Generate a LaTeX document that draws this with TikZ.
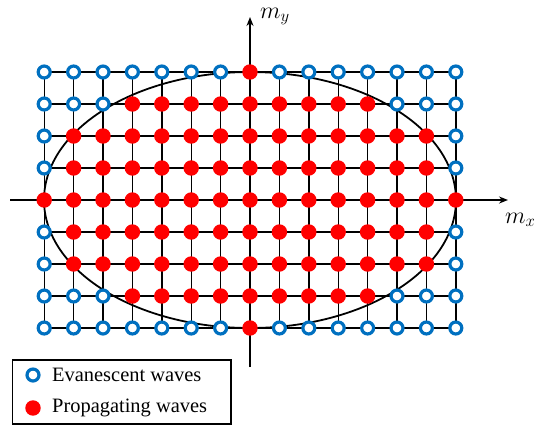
\documentclass[tikz,border=0pt]{standalone}
\usepackage{fix-cm}
\usepackage{fontspec}
\setmainfont{Liberation Serif}
\usetikzlibrary{arrows.meta}
\definecolor{evblue}{RGB}{0,112,192}
\definecolor{prred}{RGB}{255,0,0}
\tikzset{
  evan/.style={circle,draw=evblue,fill=white,line width=3.2pt,minimum size=12pt,inner sep=0pt},
  prop/.style={circle,fill=prred,minimum size=15.5pt,inner sep=0pt},
  gridline/.style={black,line width=1.4pt},
  axisline/.style={black,line width=1.8pt,-{Stealth[length=9pt,width=7pt]}},
  legendbox/.style={draw=black,line width=1.5pt,fill=white},
  lbl/.style={font=\fontsize{20.5}{24}\selectfont,inner sep=0pt},
  axlbl/.style={font=\fontsize{24}{28}\selectfont,inner sep=0pt,anchor=base west}
}
\begin{document}
\begin{tikzpicture}[x=1bp,y=-1bp]
\useasboundingbox (0,0) rectangle (537,428);
% grid
\foreach \i in {-7,...,7}{
  \draw[gridline] ({250+\i*29.4},72) -- ({250+\i*29.4},328);
}
\foreach \j in {-4,...,4}{
  \draw[gridline] (44.2,{200+\j*32}) -- (455.8,{200+\j*32});
}
% ellipse
\draw[line width=1.8pt] (250,200) ellipse [x radius=206, y radius=128];
% axes
\coordinate (xs) at (10,200);
\coordinate (xe) at (508,200);
\coordinate (ys) at (250,367);
\coordinate (ye) at (250,17);
\draw[axisline] (xs) -- (xe);
\draw[axisline] (ys) -- (ye);
% dots
\foreach \i in {-7,...,7}{
  \foreach \j in {-4,...,4}{
    \pgfmathtruncatemacro\dd{16*\i*\i+49*\j*\j}
    \ifnum\dd>784
      \node[evan] (d\i-\j) at ({250+\i*29.4},{200-\j*32}) {};
    \else
      \node[prop] (d\i-\j) at ({250+\i*29.4},{200-\j*32}) {};
    \fi
  }
}
% axis labels
\node[axlbl] (my) at (260,18) {$m_y$};
\node[axlbl] (mx) at (505,223) {$m_x$};
% legend
\node[legendbox,minimum width=218bp,minimum height=64bp,anchor=north west] (leg) at (12,359) {};
\node[evan] (le) at (33,375) {};
\node[prop] (lp) at (33,408) {};
\node[lbl,anchor=west] (te) at (52,375) {Evanescent waves};
\node[lbl,anchor=west] (tp) at (52,408) {Propagating waves};
\end{tikzpicture}
\end{document}
